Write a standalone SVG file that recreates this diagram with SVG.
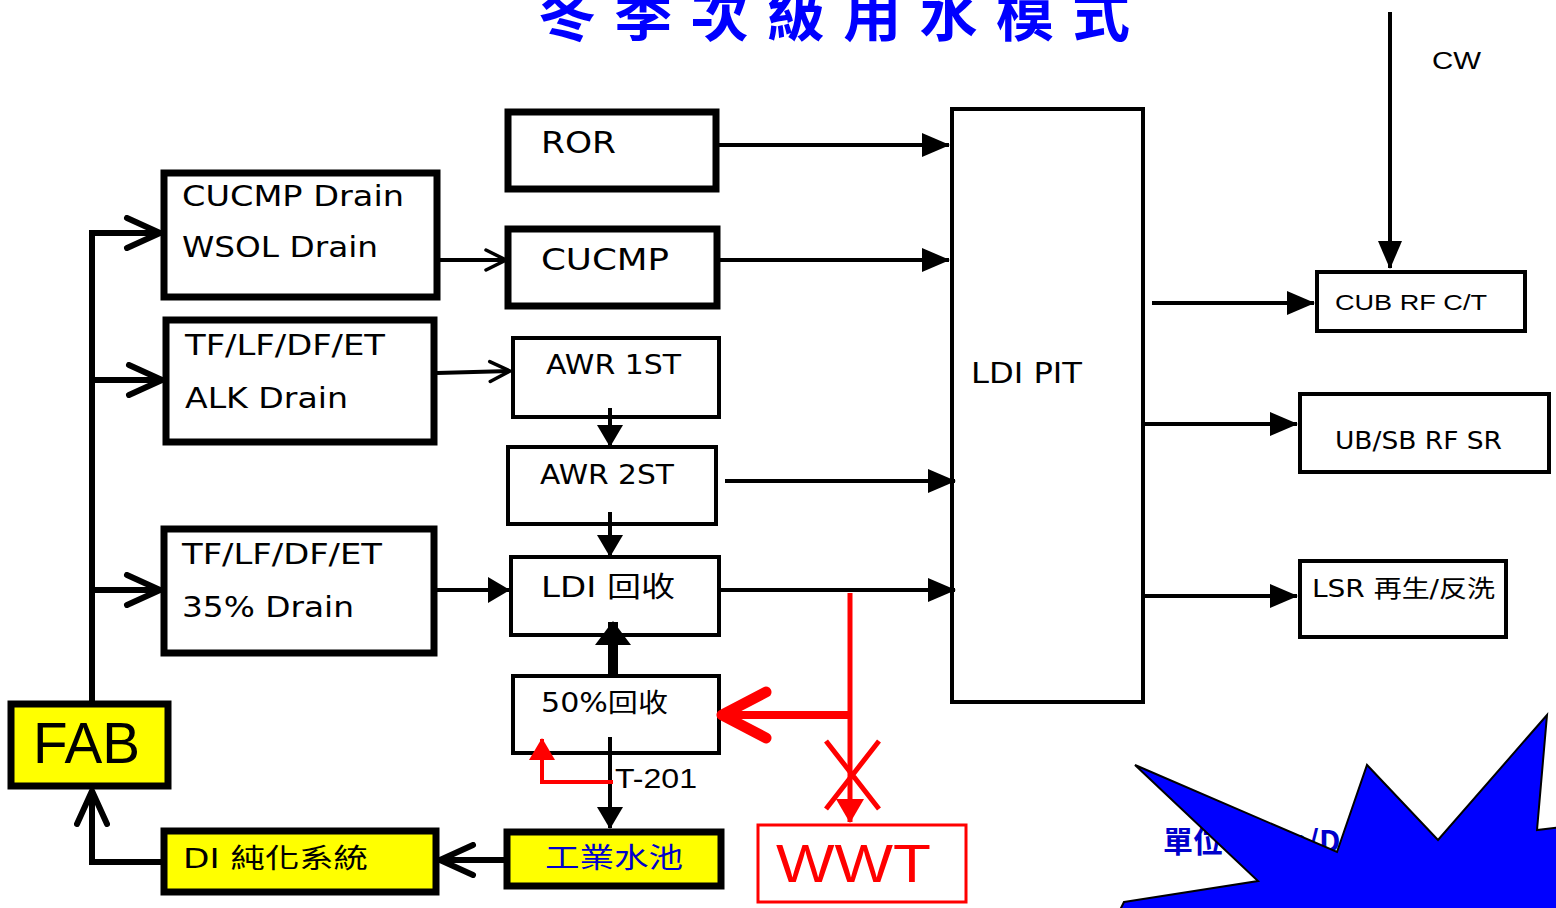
<svg xmlns="http://www.w3.org/2000/svg" width="1556" height="908" viewBox="0 0 1556 908">
<style>
.bx{fill:#fff;stroke:#000;stroke-width:7}
.bt{fill:#fff;stroke:#000;stroke-width:4}
.yl{fill:#ffff00;stroke:#000;stroke-width:7}
.t{font-family:"DejaVu Sans","Noto Sans CJK TC",sans-serif;fill:#000}
.a{font-family:"Liberation Sans","Noto Sans CJK TC",sans-serif;fill:#000}
.ln{stroke:#000;stroke-width:4;fill:none}
.lk{stroke:#000;stroke-width:6;fill:none}
.rd{stroke:#ff0000;fill:none}
</style>
<defs>
<marker id="tri" markerUnits="userSpaceOnUse" viewBox="0 0 28 24" markerWidth="28" markerHeight="24" refX="27" refY="12" orient="auto"><path d="M0,0 L28,12 L0,24 z" fill="#000"/></marker>
<marker id="triS" markerUnits="userSpaceOnUse" viewBox="0 0 22 26" markerWidth="22" markerHeight="26" refX="21" refY="13" orient="auto"><path d="M0,0 L22,13 L0,26 z" fill="#000"/></marker>
<marker id="triB" markerUnits="userSpaceOnUse" viewBox="0 0 24 36" markerWidth="24" markerHeight="36" refX="23" refY="18" orient="auto"><path d="M0,0 L24,18 L0,36 z" fill="#000"/></marker>
<marker id="triR" markerUnits="userSpaceOnUse" viewBox="0 0 24 28" markerWidth="24" markerHeight="28" refX="23" refY="14" orient="auto"><path d="M0,0 L24,14 L0,28 z" fill="#ff0000"/></marker>
<marker id="triRs" markerUnits="userSpaceOnUse" viewBox="0 0 22 26" markerWidth="22" markerHeight="26" refX="21" refY="13" orient="auto"><path d="M0,0 L22,13 L0,26 z" fill="#ff0000"/></marker>
<marker id="chev" markerUnits="userSpaceOnUse" viewBox="0 0 40 36" markerWidth="40" markerHeight="36" refX="37" refY="18" orient="auto"><path d="M4,3 L37,18 L4,33" fill="none" stroke="#000" stroke-width="6" stroke-linecap="round" stroke-linejoin="round"/></marker>
<marker id="chevS" markerUnits="userSpaceOnUse" viewBox="0 0 26 26" markerWidth="26" markerHeight="26" refX="23" refY="13" orient="auto"><path d="M3,3 L23,13 L3,23" fill="none" stroke="#000" stroke-width="3.5" stroke-linecap="round"/></marker>
</defs>

<text x="538" y="36" font-family="'Noto Sans CJK TC',sans-serif" font-weight="bold" font-size="58" fill="#0000ff" textLength="592" lengthAdjust="spacing">冬季次級用水模式</text>

<g id="ror"><rect class="bx" x="508" y="112" width="208" height="77"/><text class="t" x="541" y="153" font-size="30" textLength="75" lengthAdjust="spacingAndGlyphs">ROR</text></g>
<g id="cucmp-drain"><rect class="bx" x="164" y="173" width="273" height="124"/><text class="t" x="182" y="206" font-size="29" textLength="222" lengthAdjust="spacingAndGlyphs">CUCMP Drain</text><text class="t" x="182" y="257" font-size="29" textLength="196" lengthAdjust="spacingAndGlyphs">WSOL Drain</text></g>
<g id="cucmp"><rect class="bx" x="508" y="229" width="209" height="77"/><text class="t" x="541" y="270" font-size="30" textLength="128" lengthAdjust="spacingAndGlyphs">CUCMP</text></g>
<g id="alk"><rect class="bx" x="166" y="320" width="268" height="122"/><text class="t" x="185" y="355" font-size="29" textLength="200" lengthAdjust="spacingAndGlyphs">TF/LF/DF/ET</text><text class="t" x="185" y="408" font-size="29" textLength="163" lengthAdjust="spacingAndGlyphs">ALK Drain</text></g>
<g id="awr1"><rect class="bt" x="513" y="338" width="206" height="79"/><text class="t" x="546" y="374" font-size="27" textLength="135" lengthAdjust="spacingAndGlyphs">AWR 1ST</text></g>
<g id="awr2"><rect class="bt" x="508" y="447" width="208" height="77"/><text class="t" x="540" y="484" font-size="27" textLength="134" lengthAdjust="spacingAndGlyphs">AWR 2ST</text></g>
<g id="d35"><rect class="bx" x="164" y="529" width="270" height="124"/><text class="t" x="182" y="564" font-size="29" textLength="200" lengthAdjust="spacingAndGlyphs">TF/LF/DF/ET</text><text class="t" x="182" y="617" font-size="29" textLength="172" lengthAdjust="spacingAndGlyphs">35% Drain</text></g>
<g id="ldi-recl"><rect class="bt" x="511" y="557" width="208" height="78"/><text class="t" x="541" y="597" font-size="28" textLength="134" lengthAdjust="spacingAndGlyphs">LDI 回收</text></g>
<g id="r50"><rect class="bt" x="513" y="676" width="206" height="77"/><text class="t" x="541" y="712" font-size="26" textLength="127" lengthAdjust="spacingAndGlyphs">50%回收</text></g>
<text class="a" x="615" y="788" font-size="27" textLength="82" lengthAdjust="spacingAndGlyphs">T-201</text>
<g id="fab"><rect class="yl" x="11" y="704" width="157" height="82"/><text class="a" x="33" y="763" font-size="57" textLength="107" lengthAdjust="spacingAndGlyphs">FAB</text></g>
<g id="di"><rect class="yl" x="164" y="831" width="272" height="61"/><text class="t" x="183" y="868" font-size="27" textLength="185" lengthAdjust="spacingAndGlyphs">DI 純化系統</text></g>
<g id="pool"><rect class="yl" x="507" y="832" width="214" height="54"/><text class="t" x="545" y="868" font-size="28" style="fill:#0000cc" textLength="138" lengthAdjust="spacingAndGlyphs">工業水池</text></g>
<g id="wwt"><rect x="758" y="825" width="208" height="77" fill="#fff" stroke="#ff0000" stroke-width="3"/><text class="a" x="776" y="882" font-size="53" style="fill:#ff0000" textLength="155" lengthAdjust="spacingAndGlyphs">WWT</text></g>
<g id="ldi-pit"><rect class="bt" x="952" y="109" width="191" height="593"/><text class="t" x="971" y="383" font-size="28" textLength="111" lengthAdjust="spacingAndGlyphs">LDI PIT</text></g>
<text class="a" x="1432" y="69" font-size="24" textLength="49" lengthAdjust="spacingAndGlyphs">CW</text>
<g id="cub"><rect class="bt" x="1317" y="272" width="208" height="59"/><text class="a" x="1335" y="310" font-size="22" textLength="152" lengthAdjust="spacingAndGlyphs">CUB RF C/T</text></g>
<g id="ubsb"><rect class="bt" x="1300" y="394" width="249" height="78"/><text class="t" x="1335" y="449" font-size="24" textLength="167" lengthAdjust="spacingAndGlyphs">UB/SB RF SR</text></g>
<g id="lsr"><rect class="bt" x="1300" y="561" width="206" height="76"/><text class="t" x="1312" y="597" font-size="24" textLength="183" lengthAdjust="spacingAndGlyphs">LSR 再生/反洗</text></g>

<g id="connectors">
<line class="ln" x1="1390" y1="12" x2="1390" y2="268" marker-end="url(#tri)"/>
<line class="ln" x1="1152" y1="303" x2="1314" y2="303" marker-end="url(#tri)"/>
<line class="ln" x1="1145" y1="424" x2="1297" y2="424" marker-end="url(#tri)"/>
<line class="ln" x1="1145" y1="596" x2="1297" y2="596" marker-end="url(#tri)"/>
<line class="ln" x1="718" y1="145" x2="949" y2="145" marker-end="url(#tri)"/>
<line class="ln" x1="719" y1="260" x2="949" y2="260" marker-end="url(#tri)"/>
<line class="ln" x1="725" y1="481" x2="955" y2="481" marker-end="url(#tri)"/>
<line class="ln" x1="721" y1="590" x2="955" y2="590" marker-end="url(#tri)"/>
<line class="ln" x1="440" y1="260" x2="506" y2="260" marker-end="url(#chevS)"/>
<line class="ln" x1="437" y1="373" x2="510" y2="371" marker-end="url(#chevS)"/>
<line class="ln" x1="437" y1="590" x2="509" y2="590" marker-end="url(#triS)"/>
<line class="ln" x1="610" y1="408" x2="610" y2="446" marker-end="url(#triS)"/>
<line class="ln" x1="610" y1="512" x2="610" y2="556" marker-end="url(#triS)"/>
<line x1="613" y1="674" x2="613" y2="622" stroke="#000" stroke-width="10" marker-end="url(#triB)"/>
<line class="ln" x1="610" y1="737" x2="610" y2="828" marker-end="url(#triS)"/>
<path class="lk" d="M92,701 L92,233 L160,233" marker-end="url(#chev)"/>
<line class="lk" x1="92" y1="380" x2="162" y2="380" marker-end="url(#chev)"/>
<line class="lk" x1="92" y1="590" x2="160" y2="590" marker-end="url(#chev)"/>
<path class="lk" d="M161,862 L92,862 L92,791" marker-end="url(#chev)"/>
<line class="lk" x1="504" y1="860" x2="440" y2="860" marker-end="url(#chev)"/>
<path class="rd" stroke-width="5" d="M850,593 L850,822" marker-end="url(#triR)"/>
<line class="rd" stroke-width="8" x1="848" y1="715" x2="724" y2="715"/>
<path d="M766,692 L722,715 L766,738" fill="none" stroke="#ff0000" stroke-width="11" stroke-linecap="round" stroke-linejoin="round"/>
<path class="rd" stroke-width="4" d="M613,782 L542,782 L542,739" marker-end="url(#triRs)"/>
<path class="rd" stroke-width="5" d="M826,741 L879,809 M879,741 L826,809"/>
</g>

<text x="1163" y="852" font-family="'Noto Sans CJK TC',sans-serif" font-weight="bold" font-size="30" fill="#0000cc">單位：Ton/Day</text>
<polygon points="1124,902 1258,881 1135,765 1337,852 1367,765 1438,840 1547,715 1537,830 1570,826 1570,920 1115,920" fill="#0000ff" stroke="#000" stroke-width="2"/>
</svg>
